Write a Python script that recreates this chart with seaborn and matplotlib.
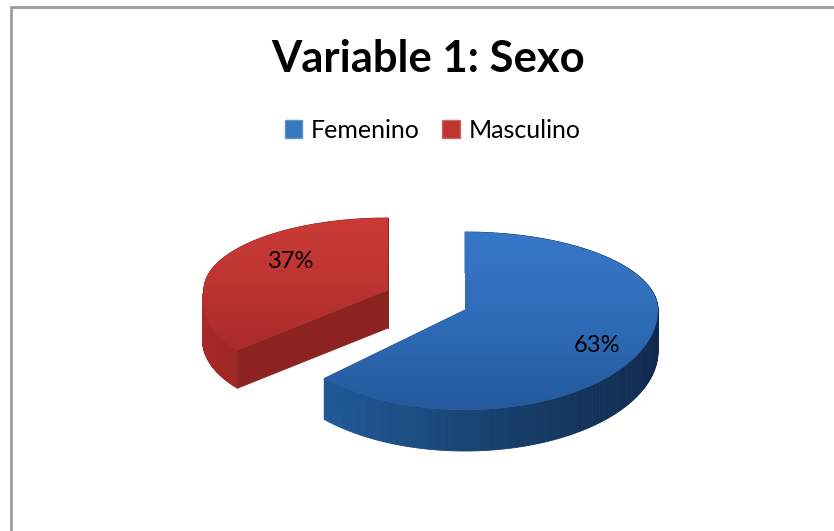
import numpy as np
import matplotlib
matplotlib.use("Agg")
import matplotlib.pyplot as plt
import seaborn as sns
from matplotlib.collections import PolyCollection
from matplotlib.colors import LinearSegmentedColormap
from matplotlib.patches import Patch, Polygon

title = "Variable 1: Sexo"
categories = ["Femenino", "Masculino"]
values = [63, 37]
labels_pct = ["63%", "37%"]

sns.set_theme(style="white")
plt.rcParams["font.family"] = ["Lato", "DejaVu Sans"]

W, H = 834, 531
fig = plt.figure(figsize=(W / 100, H / 100), dpi=100, facecolor="white")
ax = fig.add_axes([0, 0, 1, 1])

wedges, _ = ax.pie(values, startangle=90, counterclock=False, radius=1.0, center=(0, 0))
ax.set_aspect("auto")
ax.set_xlim(0, W)
ax.set_ylim(H, 0)
ax.set_axis_off()

# style of each slice: apex pixel, radii, depth, shear, gradients
styles = [
    dict(ax=465, ay=310, rx=193, ry_top=78, ry_bot=100, depth=41, shear=0,
         top=["#3777c8", "#2f6cb8", "#24599c"], wall=["#215a98", "#17406f", "#102a4e"]),
    dict(ax=388, ay=290, rx=184, ry_top=72, ry_bot=88, depth=38, shear=24,
         top=["#cb3b37", "#bd3431", "#a92b29"], wall=["#a92a27", "#8c2320", "#8a2520"]),
]


def outline(wedge, s):
    """Project a unit pie wedge into the tilted, exploded pixel position."""
    ang = np.radians(np.linspace(wedge.theta1, wedge.theta2, 240))
    x = np.r_[0, wedge.r * np.cos(ang), 0]
    y = np.r_[0, wedge.r * np.sin(ang), 0]
    px = s["ax"] + x * s["rx"] + np.where(y < 0, y * s["shear"], 0)
    py = s["ay"] - np.where(y > 0, y * s["ry_top"], y * s["ry_bot"])
    return np.column_stack([px, py])


for wedge, s in zip(wedges, styles):
    wedge.set_visible(False)
    pts = outline(wedge, s)

    # extruded wall, back to front
    a, b = pts[:-1], pts[1:]
    quads = np.stack([a, b, b + [0, s["depth"]], a + [0, s["depth"]]], axis=1)
    order = np.argsort(quads[:, :, 1].mean(axis=1))
    quads = quads[order]
    xmid = quads[:, :, 0].mean(axis=1)
    cmap = LinearSegmentedColormap.from_list("w", s["wall"])
    t = (xmid - xmid.min()) / max(np.ptp(xmid), 1)
    ax.add_collection(PolyCollection(quads, facecolors=cmap(t), edgecolors=cmap(t), linewidths=0.6))

    # top face with vertical gradient
    face = Polygon(pts, closed=True, transform=ax.transData, facecolor="none", edgecolor="none")
    ax.add_patch(face)
    gradient = np.linspace(0, 1, 256)[:, None]
    im = ax.imshow(gradient, cmap=LinearSegmentedColormap.from_list("t", s["top"]), aspect="auto",
                   extent=[pts[:, 0].min(), pts[:, 0].max(), pts[:, 1].max(), pts[:, 1].min()],
                   origin="upper", zorder=3)
    im.set_clip_path(face)

ax.set_xlim(0, W)
ax.set_ylim(H, 0)

# percentage labels
ax.text(597, 346, labels_pct[0], ha="center", va="center", fontsize=17, color="black", zorder=5)
ax.text(291, 262, labels_pct[1], ha="center", va="center", fontsize=17, color="black", zorder=5)

# title
ax.text(428, 59, title, ha="center", va="center", fontsize=31.4, fontweight="bold", color="black", zorder=5)

# legend
handles = [Patch(facecolor="#3777c0", edgecolor="#5f94cf"), Patch(facecolor="#bd3431", edgecolor="#cf6663")]
leg = ax.legend(handles, categories, loc="center", bbox_to_anchor=(432.5 / W, 1 - 130 / H),
                bbox_transform=ax.transAxes, frameon=False, ncol=2, fontsize=18,
                handlelength=0.7, handleheight=0.7, handletextpad=0.35, columnspacing=0.9)
for txt in leg.get_texts():
    txt.set_color("black")

# chart frame
ax.plot([11, 11, 834], [H, 6.5, 6.5], color="#9c9c9c", lw=2, solid_joinstyle="miter", zorder=6)

fig.savefig("out.png", dpi=100)
